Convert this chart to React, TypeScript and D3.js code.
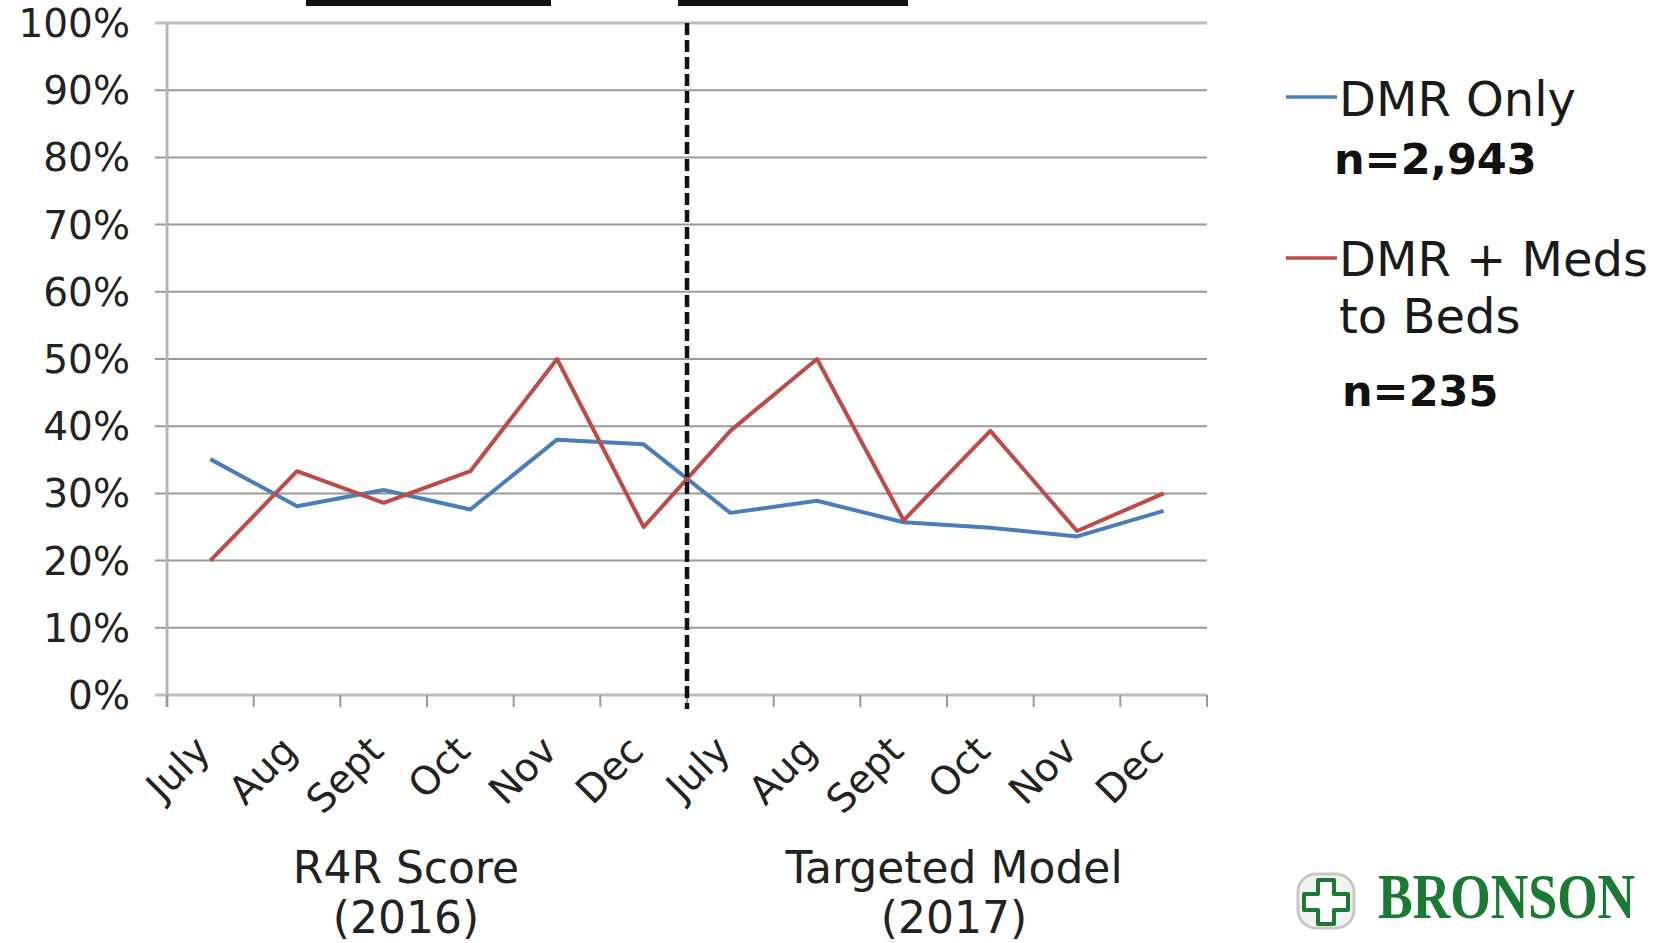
import React from "react";
import * as d3 from "d3";

// Monthly rates (%) for each discharge group
const months = ["July", "Aug", "Sept", "Oct", "Nov", "Dec", "July", "Aug", "Sept", "Oct", "Nov", "Dec"];
const dmrOnly = [35.1, 28.1, 30.5, 27.6, 38.0, 37.3, 27.1, 28.9, 25.7, 24.9, 23.6, 27.4];
const dmrMeds = [20.0, 33.3, 28.6, 33.3, 50.0, 25.0, 39.3, 50.0, 26.0, 39.3, 24.4, 30.0];
const yTicks = [0, 10, 20, 30, 40, 50, 60, 70, 80, 90, 100];
const periodLines = [
  ["R4R Score", "(2016)"],
  ["Targeted Model", "(2017)"],
];
const legendNames = [["DMR Only"], ["DMR + Meds", "to Beds"]];
const legendCounts = ["n=2,943", "n=235"];
const seriesColors = ["#4a7ebb", "#be4b48"];

const W = 1653;
const H = 943;
const FONT = "'DejaVu Sans', Verdana, sans-serif";

export default function App() {
  const left = 167;
  const right = 1207;
  const top = 23;
  const bottom = 695;

  const x = d3.scaleBand<number>().domain(d3.range(months.length)).range([left, right]);
  const y = d3.scaleLinear().domain([0, 100]).range([bottom, top]);
  const cx = (i: number) => (x(i) as number) + x.bandwidth() / 2;

  const line = d3
    .line<number>()
    .x((_, i) => cx(i))
    .y((v) => y(v));

  const splitX = x(6) as number;
  const tickXs = d3.range(months.length + 1).map((i) => left + i * x.bandwidth());
  const periodCenters = [406, 954];

  return (
    <svg
      width={W}
      height={H}
      viewBox={`0 0 ${W} ${H}`}
      style={{ position: "absolute", left: 0, top: 0, background: "#fff" }}
      fontFamily={FONT}
    >
      {/* heading underline remnants */}
      <rect x={306} y={0} width={245} height={6} fill="#111" />
      <rect x={678} y={0} width={230} height={6} fill="#111" />

      {/* gridlines */}
      {yTicks.map((t) => (
        <line
          key={`g${t}`}
          x1={left - 12}
          x2={right}
          y1={y(t)}
          y2={y(t)}
          stroke={t === 0 || t === 100 ? "#bdbdbd" : "#9a9a9a"}
          strokeWidth={t === 0 || t === 100 ? 3 : 2}
        />
      ))}
      {/* y axis */}
      <line x1={left} x2={left} y1={top} y2={bottom + 12} stroke="#b5b5b5" strokeWidth={3} />
      {/* y tick labels */}
      {yTicks.map((t) => (
        <text
          key={`yl${t}`}
          x={130}
          y={y(t)}
          dy="0.36em"
          textAnchor="end"
          fontSize={39}
          fill="#222"
        >
          {t}%
        </text>
      ))}

      {/* x tick marks */}
      {tickXs.map((tx, i) => (
        <line key={`xt${i}`} x1={tx} x2={tx} y1={bottom} y2={bottom + 12} stroke="#9a9a9a" strokeWidth={2} />
      ))}

      {/* month labels */}
      {months.map((m, i) => (
        <text
          key={`m${i}`}
          transform={`translate(${cx(i) + 2},${bottom + 58}) rotate(-45)`}
          textAnchor="end"
          fontSize={39}
          fill="#222"
        >
          {m}
        </text>
      ))}

      {/* period labels */}
      {periodLines.map((lines, k) => (
        <text key={`p${k}`} x={periodCenters[k]} textAnchor="middle" fontSize={44} fill="#222">
          {lines.map((l, j) => (
            <tspan key={j} x={periodCenters[k]} y={883 + j * 50}>
              {l}
            </tspan>
          ))}
        </text>
      ))}

      {/* series */}
      <path d={line(dmrOnly) || ""} fill="none" stroke={seriesColors[0]} strokeWidth={4} strokeLinejoin="round" />
      <path d={line(dmrMeds) || ""} fill="none" stroke={seriesColors[1]} strokeWidth={4} strokeLinejoin="round" />

      {/* period divider */}
      <line
        x1={splitX}
        x2={splitX}
        y1={top}
        y2={bottom + 14}
        stroke="#111"
        strokeWidth={4.5}
        strokeDasharray="12 5"
      />

      {/* legend */}
      <g>
        <line x1={1286} x2={1337} y1={97} y2={97} stroke={seriesColors[0]} strokeWidth={3.5} />
        <text x={1339} y={116} fontSize={48} fill="#1a1a1a">
          {legendNames[0][0]}
        </text>
        <text x={1334} y={174} fontSize={43} fontWeight="bold" fill="#111">
          {legendCounts[0]}
        </text>

        <line x1={1286} x2={1337} y1={258} y2={258} stroke={seriesColors[1]} strokeWidth={3.5} />
        <text x={1339} y={276} fontSize={48} fill="#1a1a1a">
          {legendNames[1][0]}
        </text>
        <text x={1339} y={333} fontSize={48} fill="#1a1a1a">
          {legendNames[1][1]}
        </text>
        <text x={1342} y={406} fontSize={43} fontWeight="bold" fill="#111">
          {legendCounts[1]}
        </text>
      </g>

      {/* logo */}
      <g>
        <rect x={1298} y={874} width={56} height={54} rx={18} fill="#f2f2f2" stroke="#c8c8c8" strokeWidth={3} />
        <path
          d="M1318,880 h16 v14 h14 v16 h-14 v14 h-16 v-14 h-14 v-16 h14 z"
          fill="#fff"
          stroke="#1b7a31"
          strokeWidth={4}
          strokeLinejoin="round"
        />
        <text
          transform="translate(1378,918) scale(1,1.22)"
          fontFamily="'Liberation Serif', 'DejaVu Serif', serif"
          fontWeight="bold"
          fontSize={52}
          fill="#1b7a31"
        >
          BRONSON
        </text>
      </g>
    </svg>
  );
}
